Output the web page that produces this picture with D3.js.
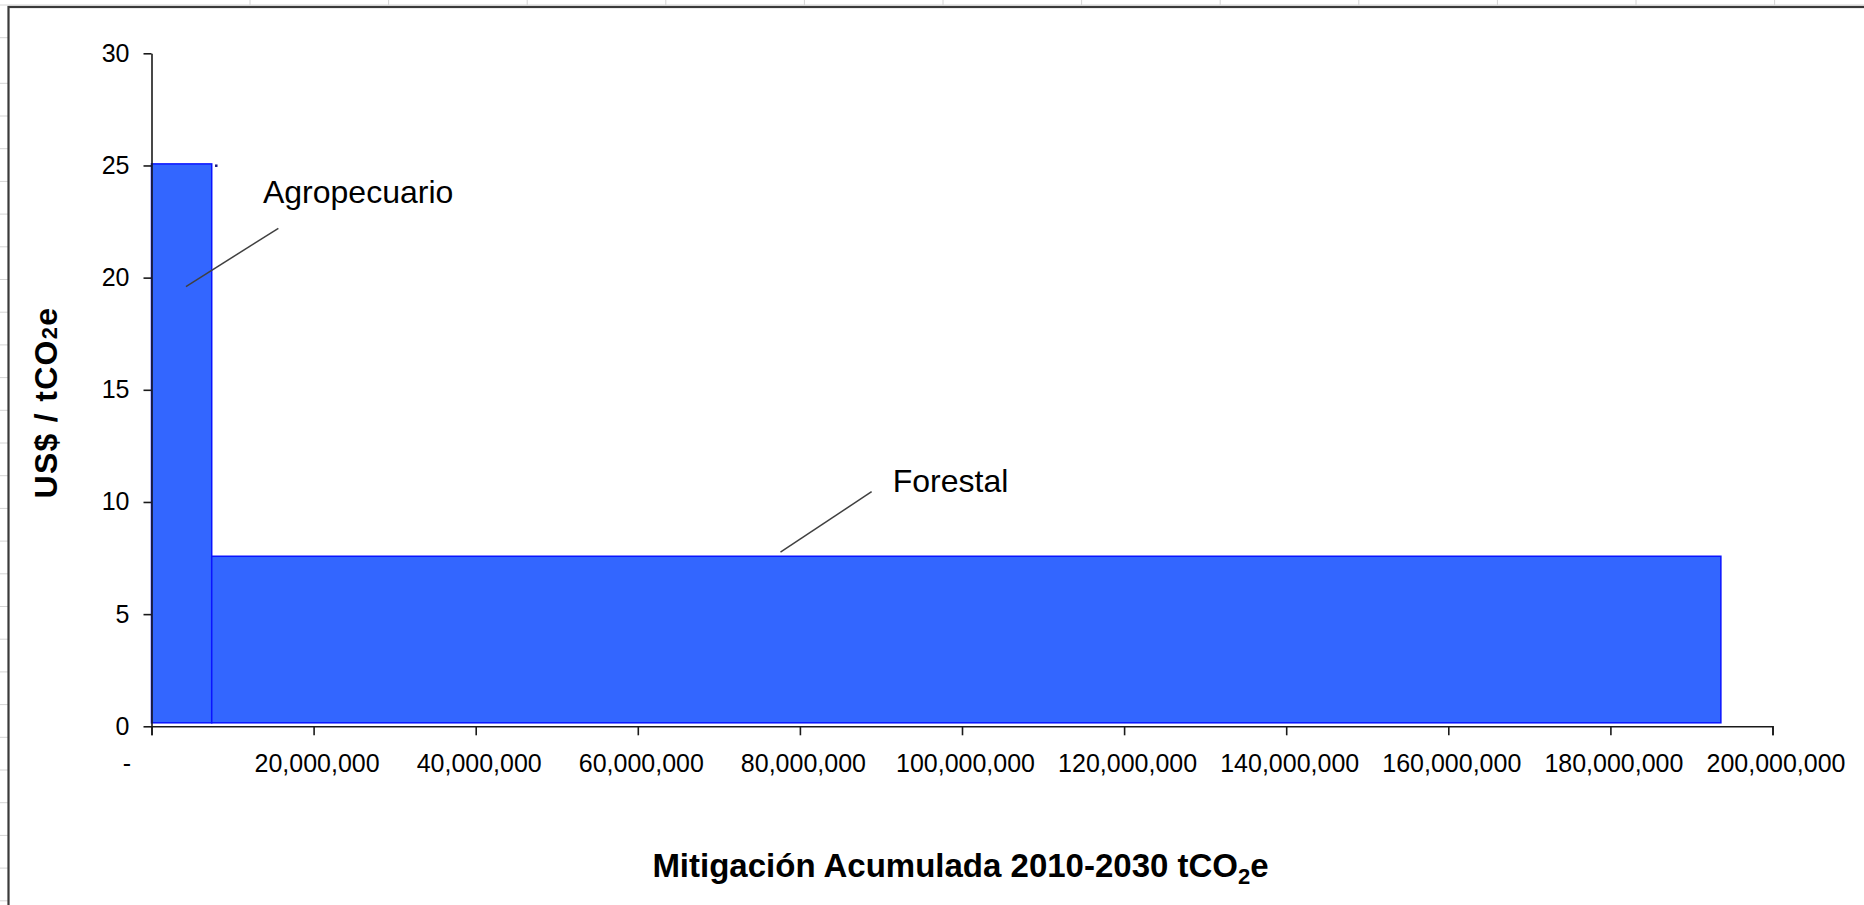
<!DOCTYPE html>
<html>
<head>
<meta charset="utf-8">
<script src="https://cdn.jsdelivr.net/npm/d3@7"></script>
<style>
  body { margin: 0; background: #fff; }
  svg { display: block; font-family: "Liberation Sans", Arial, sans-serif; }
</style>
</head>
<body>
<div id="chart"></div>
<script>
// data
var sectors = ["Agropecuario", "Forestal"];
var mitigation = [7430000, 186200000];   // tCO2e per sector (bar widths)
var cost = [25.07, 7.58];                // US$ / tCO2e (bar heights)

var xTicks = [0, 20000000, 40000000, 60000000, 80000000, 100000000, 120000000, 140000000, 160000000, 180000000, 200000000];
var yTicks = [0, 5, 10, 15, 20, 25, 30];

// label anchors in data units: leader start, leader end, text position
var leaderFrom = [[4250000, 19.6], [77600000, 7.76]];
var leaderTo = [[15650000, 22.2], [88850000, 10.46]];
var labelAt = [[13750000, 23.33], [91450000, 10.46]];

// stray marker next to the first bar
var markerX = [7960000], markerY = [25];

var W = 1864, H = 905;
var margin = {left: 151.5, top: 53.3, right: 91.5, bottom: 178.7};
var width = W - margin.left - margin.right,
    height = H - margin.top - margin.bottom;

var x = d3.scaleLinear().domain([0, 200000000]).range([0, width]);
var y = d3.scaleLinear().domain([0, 30]).range([height, 0]);

var fill = "#3366ff", edge = "#0a14ff";

var root = d3.select("#chart").append("svg")
  .attr("width", W)
  .attr("height", H);

// spreadsheet grid behind the chart object
var grid = root.append("g").attr("stroke", "#d4d4d4").attr("stroke-width", 1);
grid.append("line").attr("x1", 0).attr("x2", W).attr("y1", 5).attr("y2", 5);
d3.range(250, W, 138.6).forEach(function(cx) {
  grid.append("line").attr("x1", cx).attr("x2", cx).attr("y1", 0).attr("y2", 5);
});
[37.7].concat(d3.range(83.3, H, 32.7)).forEach(function(ry) {
  grid.append("line").attr("x1", 0).attr("x2", 8).attr("y1", ry).attr("y2", ry);
});

// chart frame
root.append("rect")
  .attr("x", 8.5).attr("y", 7)
  .attr("width", W).attr("height", H)
  .style("fill", "#fff")
  .style("stroke", "#3a3a3a")
  .style("stroke-width", 2.2);

var svg = root.append("g")
  .attr("transform", "translate(" + margin.left + "," + margin.top + ")");

// cumulative start of each bar
var starts = [];
mitigation.reduce(function(acc, v, i) { starts[i] = acc; return acc + v; }, 0);

var gap = 3.5; // bars float a hair above the axis in the original
svg.selectAll(".bar")
  .data(sectors)
  .enter().append("rect")
  .attr("class", "bar")
  .attr("x", function(d, i) { return x(starts[i]); })
  .attr("y", function(d, i) { return y(cost[i]); })
  .attr("width", function(d, i) { return x(starts[i] + mitigation[i]) - x(starts[i]); })
  .attr("height", function(d, i) { return y(0) - y(cost[i]) - gap; })
  .style("fill", fill)
  .style("stroke", edge)
  .style("stroke-width", 1.5);

svg.selectAll(".marker")
  .data(markerX)
  .enter().append("rect")
  .attr("class", "marker")
  .attr("x", function(d) { return x(d) - 1; })
  .attr("y", function(d, i) { return y(markerY[i]) - 1; })
  .attr("width", 2.5).attr("height", 2.5)
  .style("fill", "#1a1a80");

// leader lines + labels
svg.selectAll(".leader")
  .data(sectors)
  .enter().append("line")
  .attr("class", "leader")
  .attr("x1", function(d, i) { return x(leaderFrom[i][0]); })
  .attr("y1", function(d, i) { return y(leaderFrom[i][1]); })
  .attr("x2", function(d, i) { return x(leaderTo[i][0]); })
  .attr("y2", function(d, i) { return y(leaderTo[i][1]); })
  .style("stroke", "#404040")
  .style("stroke-width", 1.5);

svg.selectAll(".label")
  .data(sectors)
  .enter().append("text")
  .attr("class", "label")
  .attr("x", function(d, i) { return x(labelAt[i][0]); })
  .attr("y", function(d, i) { return y(labelAt[i][1]); })
  .style("font-size", "32px")
  .style("fill", "#000")
  .text(function(d) { return d; });

// X axis
var xAxis = svg.append("g")
  .attr("transform", "translate(0," + height + ")")
  .call(d3.axisBottom(x)
    .tickValues(xTicks)
    .tickSize(9)
    .tickSizeOuter(9)
    .tickPadding(19)
    .tickFormat(function(d) { return d === 0 ? "-" : d3.format(",")(d); }));

xAxis.selectAll("text")
  .style("font-size", "25px")
  .style("font-family", "Liberation Sans, Arial, sans-serif")
  .style("fill", "#000")
  .attr("dx", function(d) { return d === 0 ? "-25" : "3"; });

//Y axis
var yAxis = svg.append("g")
  .call(d3.axisLeft(y)
    .tickValues(yTicks)
    .tickSize(8)
    .tickSizeOuter(0)
    .tickPadding(14));

yAxis.selectAll("text")
  .style("font-size", "25px")
  .style("font-family", "Liberation Sans, Arial, sans-serif")
  .style("fill", "#000");

[xAxis, yAxis].forEach(function(a) {
  a.selectAll("line, path").style("stroke", "#1a1a1a").style("stroke-width", 1.6);
});

//Label for Y axis
var yLab = root.append("text")
  .attr("transform", "translate(57," + 402.5 + ") rotate(-90)")
  .style("text-anchor", "middle")
  .style("font-weight", "bold")
  .style("font-size", "32px")
  .style("letter-spacing", "1.3px")
  .style("fill", "#000");
yLab.append("tspan").text("US$ / tCO");
yLab.append("tspan").style("font-size", "22px").text("2");
yLab.append("tspan").text("e");

//Label for X axis
var xLab = root.append("text")
  .attr("x", 960.5)
  .attr("y", 877)
  .style("text-anchor", "middle")
  .style("font-weight", "bold")
  .style("font-size", "33px")
  .style("fill", "#000");
xLab.append("tspan").text("Mitigación Acumulada 2010-2030 tCO");
xLab.append("tspan").attr("dy", 7).style("font-size", "22px").text("2");
xLab.append("tspan").attr("dy", -7).text("e");
</script>
</body>
</html>
